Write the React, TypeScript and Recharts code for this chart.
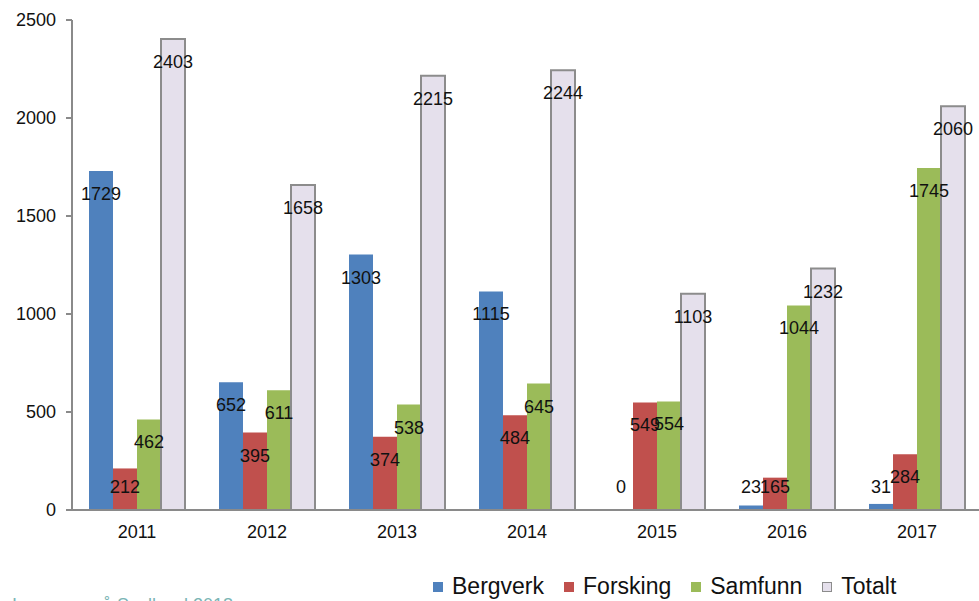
import React from "react";
import { BarChart, Bar, XAxis, YAxis, Legend, LabelList } from "recharts";

const years = ["2011", "2012", "2013", "2014", "2015", "2016", "2017"];
const bergverk = [1729, 652, 1303, 1115, 0, 23, 31];
const forsking = [212, 395, 374, 484, 549, 165, 284];
const samfunn = [462, 611, 538, 645, 554, 1044, 1745];
const totalt = [2403, 1658, 2215, 2244, 1103, 1232, 2060];
const yTicks = [0, 500, 1000, 1500, 2000, 2500];

const data = years.map((y, i) => ({
  year: y,
  Bergverk: bergverk[i],
  Forsking: forsking[i],
  Samfunn: samfunn[i],
  Totalt: totalt[i],
}));

const FONT = "'Liberation Sans', Arial, sans-serif";
const AXIS = "#8a8a8a";

const series = [
  { key: "Bergverk", fill: "#4F81BD", stroke: "none" },
  { key: "Forsking", fill: "#C0504D", stroke: "none" },
  { key: "Samfunn", fill: "#9BBB59", stroke: "none" },
  { key: "Totalt", fill: "#E5E0EC", stroke: "#8c8c8c" },
];

const renderValueLabel = (props: any) => {
  const { x, y, width, height, value } = props;
  const h = Number(height) || 0;
  const base = Number(y) + h;
  const cy = Math.min(Number(y) + 23, base - 23);
  return (
    <text
      key={`${x}-${y}`}
      x={Number(x) + Number(width) / 2}
      y={cy}
      textAnchor="middle"
      dominantBaseline="central"
      fontFamily={FONT}
      fontSize={18}
      fill="#111"
    >
      {String(value)}
    </text>
  );
};

const LegendContent = () => (
  <div
    style={{
      display: "flex",
      alignItems: "center",
      fontFamily: FONT,
      fontSize: 23,
      color: "#111",
      paddingLeft: 433,
    }}
  >
    {series.map((s) => (
      <div key={s.key} style={{ display: "flex", alignItems: "center", marginRight: 20 }}>
        <div
          style={{
            width: s.key === "Totalt" ? 8 : 10,
            height: s.key === "Totalt" ? 8 : 10,
            background: s.fill,
            border: s.key === "Totalt" ? "1px solid #8c8c8c" : "none",
            marginRight: 9,
          }}
        />
        <span>{s.key}</span>
      </div>
    ))}
  </div>
);

export default function App() {
  return (
    <div
      style={{
        position: "absolute",
        left: 0,
        top: 0,
        width: 979,
        height: 601,
        overflow: "hidden",
        background: "#fff",
      }}
    >
      <BarChart
        width={990}
        height={601}
        data={data}
        margin={{ top: 20, right: 8, left: 0, bottom: 24 }}
        barGap={0}
        barSize={24}
      >
        <XAxis
          dataKey="year"
          axisLine={{ stroke: AXIS, strokeWidth: 2 }}
          tickLine={false}
          tick={{ fontFamily: FONT, fontSize: 18, fill: "#111" }}
          tickMargin={9}
          height={40}
        />
        <YAxis
          domain={[0, 2500]}
          ticks={yTicks}
          width={72}
          axisLine={{ stroke: AXIS, strokeWidth: 2 }}
          tickLine={{ stroke: AXIS, strokeWidth: 2 }}
          tickSize={6}
          tickMargin={10}
          tick={{ fontFamily: FONT, fontSize: 18, fill: "#111" }}
        />
        <Legend
          verticalAlign="bottom"
          content={<LegendContent />}
          wrapperStyle={{ position: "absolute", top: 573, left: 0, width: 979 }}
        />
        {series.map((s) => (
          <Bar
            key={s.key}
            dataKey={s.key}
            fill={s.fill}
            stroke={s.stroke}
            strokeWidth={s.key === "Totalt" ? 2 : 0}
            minPointSize={s.key === "Bergverk" ? 0.01 : 0}
            isAnimationActive={false}
          >
            <LabelList dataKey={s.key} content={renderValueLabel} />
          </Bar>
        ))}
      </BarChart>
      <div
        style={{
          position: "absolute",
          left: 12,
          top: 596,
          fontFamily: FONT,
          fontSize: 18,
          lineHeight: 1,
          color: "#7ab5b5",
          whiteSpace: "nowrap",
        }}
      >
        I summer på Svalbard 2018
      </div>
    </div>
  );
}
